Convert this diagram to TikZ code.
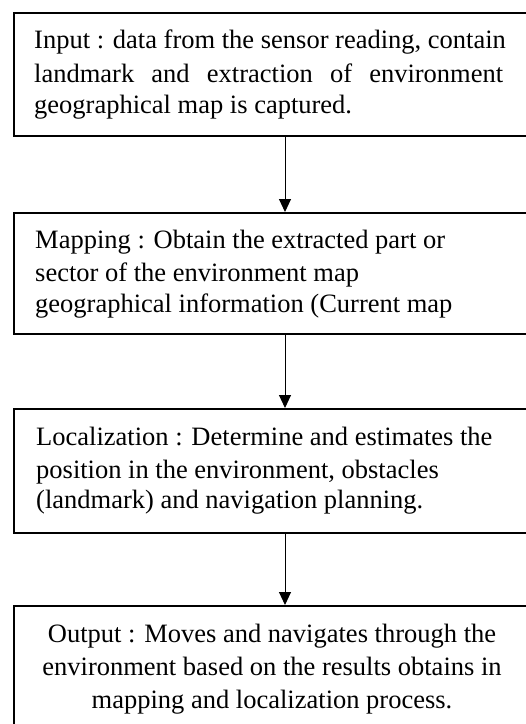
\documentclass[tikz,border=0pt]{standalone}
\usepackage{fontspec}
\setmainfont{Liberation Serif}
\usetikzlibrary{arrows.meta}
\newcommand{\fs}{\fontsize{26.5}{31}\selectfont}
\begin{document}
\begin{tikzpicture}[x=1pt,y=-1pt,
  box/.style={draw, line width=2pt, inner sep=0pt, minimum width=542pt, anchor=north west},
  ln/.style={inner sep=0pt, font=\fs, anchor=base west},
  lc/.style={inner sep=0pt, font=\fs, anchor=base},
  arr/.style={-{Triangle[length=13pt,width=12pt]}, line width=1pt}]
\useasboundingbox (0,0) rectangle (526,724);
\clip (0,0) rectangle (526,724);
\fill[white] (0,0) rectangle (526,724);
% boxes
\node[box, minimum height=123pt] (b1) at (13,12) {};
\node[box, minimum height=121pt] (b2) at (13,212) {};
\node[box, minimum height=124pt] (b3) at (13,408) {};
\node[box, minimum height=140pt] (b4) at (13,605) {};
% box 1 text
\node[ln] (t1a) at (34,48) {Input : data from the sensor reading, contain};
\node[ln] (t1b) at (34,82) {\makebox[469pt][s]{landmark and extraction of environment}};
\node[ln] (t1c) at (34,113) {geographical map is captured.};
% box 2 text
\node[ln] (t2a) at (35,248) {Mapping : Obtain the extracted part or};
\node[ln] (t2b) at (35,281) {sector of the environment map};
\node[ln] (t2c) at (35,312) {geographical information (Current map};
% box 3 text
\node[ln] (t3a) at (36,445) {Localization : Determine and estimates the};
\node[ln] (t3b) at (36,478) {position in the environment, obstacles};
\node[ln] (t3c) at (36,508) {(landmark) and navigation planning.};
% box 4 text
\node[lc] (t4a) at (272,642) {Output : Moves and navigates through the};
\node[lc] (t4b) at (272,675) {environment based on the results obtains in};
\node[lc] (t4c) at (272,708) {mapping and localization process.};
% arrows
\draw[arr] (b1.south) -- (b2.north);
\draw[arr] (b2.south) -- (b3.north);
\draw[arr] (b3.south) -- (b4.north);
\end{tikzpicture}
\end{document}
